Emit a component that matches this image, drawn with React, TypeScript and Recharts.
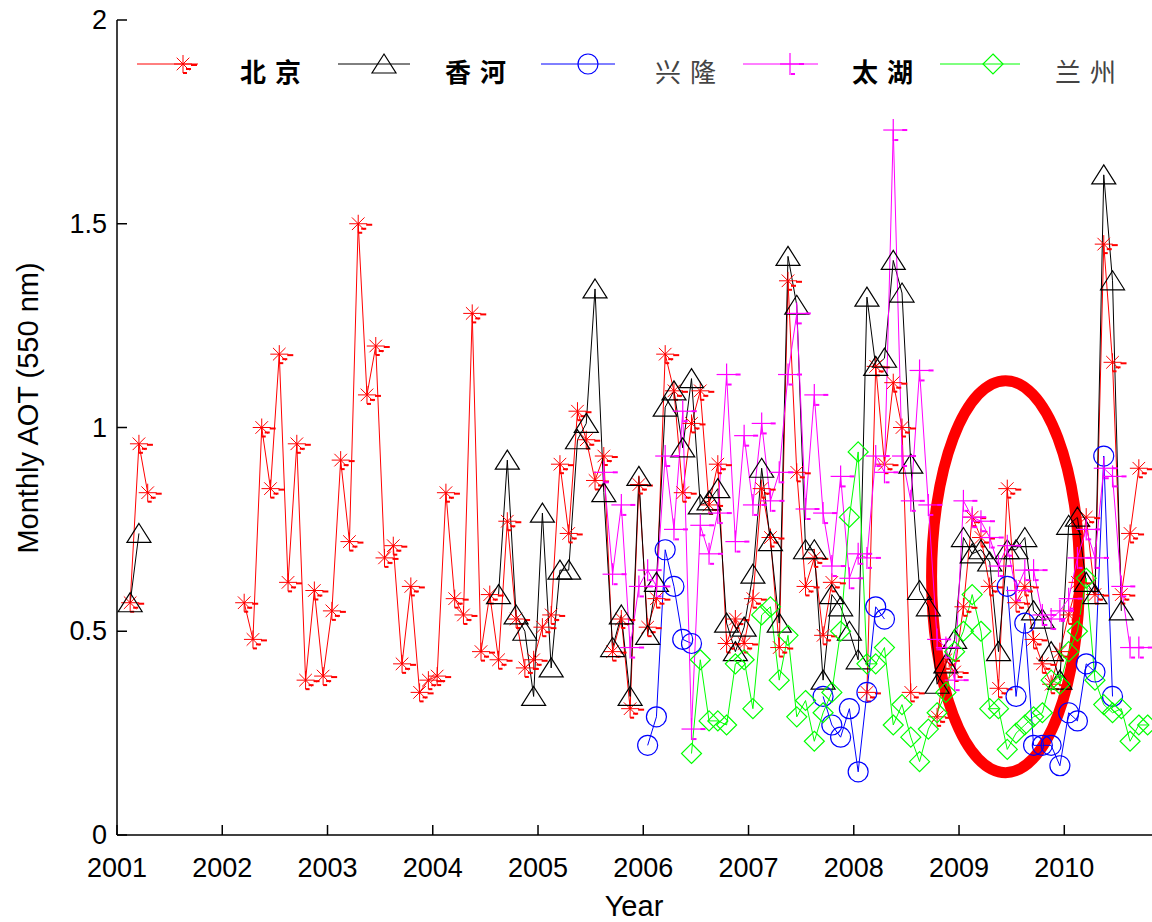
import React from 'react';
import { LineChart, Line, XAxis, YAxis, ReferenceArea } from 'recharts';

// Monthly AOT (550 nm), one row per year (Jan..Dec), 2001 - Oct 2010
const beijing: (number | null)[] = [
  null, 0.57, 0.96, 0.84, null, null, null, null, null, null, null, null,
  null, null, 0.57, 0.48, 1.0, 0.85, 1.18, 0.62, 0.96, 0.38, 0.6, 0.39,
  0.55, 0.92, 0.72, 1.5, 1.08, 1.2, 0.68, 0.71, 0.42, 0.61, 0.35, 0.38,
  0.39, 0.84, 0.58, 0.54, 1.28, 0.45, 0.59, 0.43, 0.77, 0.53, 0.41, 0.43,
  0.51, 0.54, 0.91, 0.74, 1.04, 0.97, 0.87, 0.93, 0.45, 0.53, 0.31, 0.86,
  0.51, 0.58, 1.18, 1.09, 0.84, 1.01, 1.09, 0.81, 0.91, 0.47, 0.53, 0.47,
  0.58, 0.85, 0.73, 0.46, 1.36, 0.89, 0.61, 0.68, 0.49, 0.62, null, null,
  null, 0.35, 1.15, 0.91, 1.11, 1.0, 0.35, null, null, 0.29, 0.43, 0.4,
  0.56, 0.78, 0.73, 0.61, 0.36, 0.85, 0.57, 0.61, 0.48, 0.42, 0.37, 0.45,
  0.54, 0.62, 0.78, 0.59, 1.45, 1.16, 0.59, 0.74, 0.9, null,
];

const xianghe: (number | null)[] = [
  null, 0.57, 0.74, null, null, null, null, null, null, null, null, null,
  null, null, null, null, null, null, null, null, null, null, null, null,
  null, null, null, null, null, null, null, null, null, null, null, null,
  null, null, null, null, null, null, null, 0.59, 0.92, 0.54, 0.5, 0.34,
  0.79, 0.41, 0.65, 0.65, 0.97, 1.01, 1.34, 0.84, 0.46, 0.54, 0.34, 0.88,
  0.49, 0.62, 1.05, 1.09, 0.95, 1.12, 0.81, 0.82, 0.85, 0.52, 0.45, 0.51,
  0.64, 0.9, 0.72, 0.52, 1.42, 1.3, 0.7, 0.7, 0.38, 0.59, 0.56, 0.5,
  0.43, 1.32, 1.15, 1.17, 1.41, 1.33, 0.91, 0.6, 0.56, 0.37, 0.42, 0.48,
  0.73, 0.69, 0.7, 0.67, 0.45, 0.7, 0.7, 0.73, 0.55, 0.53, 0.45, 0.38,
  0.76, 0.78, 0.62, 0.59, 1.62, 1.36, 0.55, null, null, null,
];

const xinglong: (number | null)[] = [
  null, null, null, null, null, null, null, null, null, null, null, null,
  null, null, null, null, null, null, null, null, null, null, null, null,
  null, null, null, null, null, null, null, null, null, null, null, null,
  null, null, null, null, null, null, null, null, null, null, null, null,
  null, null, null, null, null, null, null, null, null, null, null, null,
  0.22, 0.29, 0.7, 0.61, 0.48, 0.47, null, null, null, null, null, null,
  null, null, null, null, null, null, null, null, 0.34, 0.27, 0.24, 0.31,
  0.155, 0.35, 0.56, 0.53, null, null, null, null, null, null, null, null,
  null, null, null, null, null, 0.61, 0.34, 0.52, 0.22, 0.22, 0.22, 0.17,
  0.3, 0.28, 0.42, 0.4, 0.93, 0.34, null, null, null, null,
];

const taihu: (number | null)[] = [
  null, null, null, null, null, null, null, null, null, null, null, null,
  null, null, null, null, null, null, null, null, null, null, null, null,
  null, null, null, null, null, null, null, null, null, null, null, null,
  null, null, null, null, null, null, null, null, null, null, null, null,
  null, null, null, null, null, null, null, 0.89, 0.64, 0.81, 0.46, 0.61,
  0.65, 0.61, 0.93, 0.75, 1.04, 0.26, 0.76, 0.69, 0.79, 1.13, 0.72, 0.98,
  0.81, 1.01, 0.82, 0.89, 1.13, 1.28, 0.8, 1.08, 0.79, 0.66, 0.88, 0.63,
  0.69, 0.68, 0.93, 0.89, 1.73, 0.93, 0.82, 1.14, 0.81, 0.48, 0.46, 0.38,
  0.82, 0.78, 0.77, 0.73, 0.66, 0.71, 0.6, 0.65, 0.65, 0.54, 0.53, 0.55,
  0.58, 0.68, 0.75, 0.68, 0.9, 0.88, 0.61, 0.46, 0.46, null,
];

const lanzhou: (number | null)[] = [
  null, null, null, null, null, null, null, null, null, null, null, null,
  null, null, null, null, null, null, null, null, null, null, null, null,
  null, null, null, null, null, null, null, null, null, null, null, null,
  null, null, null, null, null, null, null, null, null, null, null, null,
  null, null, null, null, null, null, null, null, null, null, null, null,
  null, null, null, null, null, 0.2, 0.43, 0.28, 0.28, 0.27, 0.42, 0.43,
  0.31, 0.54, 0.56, 0.38, 0.49, 0.29, 0.33, 0.23, 0.3, 0.35, 0.5, 0.78,
  0.94, 0.42, 0.42, 0.46, 0.27, 0.32, 0.24, 0.18, 0.26, 0.3, 0.35, 0.45,
  0.5, 0.59, 0.5, 0.31, 0.31, 0.21, 0.25, 0.27, 0.29, 0.3, 0.38, 0.37,
  0.45, 0.5, 0.63, 0.38, 0.32, 0.3, 0.31, 0.23, 0.27, 0.27,
];

const yearTicks = [2001, 2002, 2003, 2004, 2005, 2006, 2007, 2008, 2009, 2010];
const aotTicks = [0, 0.5, 1, 1.5, 2];
const START_YEAR = 2001;
const END_YEAR = 2010 + 10 / 12;

const stationNames = ['北京', '香河', '兴隆', '太湖', '兰州'];

const data = beijing.map((_, m) => ({
  t: START_YEAR + (m + 0.5) / 12,
  bj: beijing[m],
  xh: xianghe[m],
  xl: xinglong[m],
  th: taihu[m],
  lz: lanzhou[m],
}));

const FONT = '"Liberation Sans", Arial, sans-serif';
const CJK = '"Noto Sans CJK SC", sans-serif';
const TICK_FS = 27;
const TITLE_FS = 29;

type MarkProps = { cx: number; cy: number; color: string };

const Star = ({ cx, cy, color }: MarkProps) => {
  const r = 9;
  const d = r * 0.7;
  return (
    <g stroke={color} strokeWidth={1}>
      <line x1={cx - r} y1={cy} x2={cx + r} y2={cy} />
      <line x1={cx} y1={cy - r} x2={cx} y2={cy + r} />
      <line x1={cx - d} y1={cy - d} x2={cx + d} y2={cy + d} />
      <line x1={cx - d} y1={cy + d} x2={cx + d} y2={cy - d} />
      <rect x={cx + 8} y={cy} width={6} height={2} fill={color} stroke="none" />
      <rect x={cx + 3} y={cy + 4} width={5} height={2} fill={color} stroke="none" />
      <rect x={cx} y={cy + 8} width={4} height={2} fill={color} stroke="none" />
    </g>
  );
};

const Triangle = ({ cx, cy, color }: MarkProps) => (
  <polygon
    points={`${cx},${cy - 10} ${cx + 12},${cy + 9} ${cx - 12},${cy + 9}`}
    fill="none"
    stroke={color}
    strokeWidth={1.2}
  />
);

const Circle = ({ cx, cy, color }: MarkProps) => (
  <circle cx={cx} cy={cy} r={10} fill="none" stroke={color} strokeWidth={1.2} />
);

const Plus = ({ cx, cy, color }: MarkProps) => (
  <g stroke={color} strokeWidth={1.2}>
    <line x1={cx - 10} y1={cy} x2={cx + 10} y2={cy} />
    <line x1={cx} y1={cy - 11} x2={cx} y2={cy + 11} />
    <rect x={cx + 9} y={cy - 1} width={5} height={2} fill={color} stroke="none" />
    <rect x={cx + 1} y={cy + 9} width={4} height={2} fill={color} stroke="none" />
  </g>
);

const Diamond = ({ cx, cy, color }: MarkProps) => (
  <polygon
    points={`${cx},${cy - 10} ${cx + 10},${cy} ${cx},${cy + 10} ${cx - 10},${cy}`}
    fill="none"
    stroke={color}
    strokeWidth={1.2}
  />
);

const series = [
  { key: 'bj', color: '#ff0000', Mark: Star },
  { key: 'xh', color: '#000000', Mark: Triangle },
  { key: 'xl', color: '#0000ff', Mark: Circle },
  { key: 'th', color: '#ff00ff', Mark: Plus },
  { key: 'lz', color: '#00ff00', Mark: Diamond },
];

const makeDot = (Mark: React.FC<MarkProps>, color: string) => (p: any) => {
  if (p.value == null || p.cy == null || Number.isNaN(p.cy)) return <g key={p.index} />;
  return (
    <g key={p.index}>
      <Mark cx={p.cx} cy={p.cy} color={color} />
    </g>
  );
};

const XTick = (p: any) => (
  <g>
    <line x1={p.x} x2={p.x} y1={p.y} y2={p.y - 10} stroke="#000" strokeWidth={1.5} />
    <text x={p.x} y={p.y + 33} textAnchor="middle" dominantBaseline="central" fontSize={TICK_FS} fontFamily={FONT} fill="#000">
      {p.payload.value}
    </text>
  </g>
);

const YTickLeft = (p: any) => (
  <g>
    <line x1={p.x} x2={p.x + 10} y1={p.y} y2={p.y} stroke="#000" strokeWidth={1.5} />
    <text x={p.x - 10} y={p.y} textAnchor="end" dominantBaseline="central" fontSize={TICK_FS} fontFamily={FONT} fill="#000">
      {p.payload.value}
    </text>
  </g>
);

const YTickRight = (p: any) => (
  <line x1={p.x - 10} x2={p.x} y1={p.y} y2={p.y} stroke="#000" strokeWidth={1.5} />
);

const XTitle = () => (
  <text x={634} y={906} textAnchor="middle" dominantBaseline="central" fontSize={TITLE_FS} fontFamily={FONT} fill="#000">
    Year
  </text>
);

const YTitle = () => (
  <text
    x={28}
    y={408}
    transform="rotate(-90 28 408)"
    textAnchor="middle"
    dominantBaseline="central"
    fontSize={TITLE_FS}
    fontFamily={FONT}
    fill="#000"
  >
    Monthly AOT (550 nm)
  </text>
);

const ellipseShape = (p: any) => (
  <ellipse
    cx={p.x + p.width / 2}
    cy={p.y + p.height / 2}
    rx={p.width / 2}
    ry={p.height / 2}
    fill="none"
    stroke="#ff0000"
    strokeWidth={11}
  />
);

// legend entries: line sample, marker and station name
const legendItems = [
  { x0: 137, x1: 198, mx: 183, tx: 240, bold: true },
  { x0: 338, x1: 410, mx: 384, tx: 445, bold: true },
  { x0: 541, x1: 615, mx: 588, tx: 655, bold: false },
  { x0: 743, x1: 818, mx: 790, tx: 852, bold: true },
  { x0: 940, x1: 1020, mx: 993, tx: 1055, bold: false },
];

const LegendOverlay = () => (
  <svg width={1152} height={110} style={{ position: 'absolute', left: 0, top: 0 }}>
    {legendItems.map((it, i) => {
      const s = series[i];
      const M = s.Mark;
      return (
        <g key={s.key}>
          <line x1={it.x0} x2={it.x1} y1={64} y2={64} stroke={s.color} strokeWidth={1} />
          <M cx={it.mx} cy={64} color={s.color} />
          <text
            x={it.tx}
            y={70}
            dominantBaseline="central"
            fontSize={26}
            fontFamily={CJK}
            fontWeight={it.bold ? 700 : 400}
            fill={it.bold ? '#000' : '#444'}
            letterSpacing={9}
          >
            {stationNames[i]}
          </text>
        </g>
      );
    })}
  </svg>
);

export default function App() {
  return (
    <div style={{ position: 'relative', width: 1152, height: 922 }}>
      <style>{`body{margin:0}`}</style>
      <LineChart width={1152} height={922} data={data} margin={{ top: 20, right: 0, bottom: 0, left: 0 }}>
        <XAxis
          type="number"
          dataKey="t"
          domain={[START_YEAR, END_YEAR]}
          ticks={yearTicks}
          allowDataOverflow
          height={87}
          tickSize={0}
          tickMargin={0}
          tick={XTick}
          axisLine={{ stroke: '#000', strokeWidth: 1.5 }}
          tickLine={false}
          interval={0}
          label={XTitle}
        />
        <YAxis
          yAxisId="l"
          domain={[0, 2]}
          ticks={aotTicks}
          width={117}
          tickSize={0}
          tickMargin={0}
          tick={YTickLeft}
          axisLine={{ stroke: '#000', strokeWidth: 1.5 }}
          tickLine={false}
          interval={0}
          label={YTitle}
        />
        <YAxis
          yAxisId="r"
          orientation="right"
          domain={[0, 2]}
          ticks={aotTicks}
          width={0}
          tickSize={0}
          tickMargin={0}
          tick={YTickRight}
          axisLine={false}
          tickLine={false}
          interval={0}
        />
        {series.map((s) => (
          <Line
            key={s.key}
            yAxisId="l"
            type="linear"
            dataKey={s.key}
            stroke={s.color}
            strokeWidth={1}
            dot={makeDot(s.Mark, s.color)}
            activeDot={false}
            isAnimationActive={false}
            connectNulls={false}
          />
        ))}
        <ReferenceArea
          yAxisId="l"
          x1={2008.739}
          x2={2010.145}
          y1={0.153}
          y2={1.115}
          shape={ellipseShape}
          ifOverflow="visible"
        />
      </LineChart>
      <LegendOverlay />
    </div>
  );
}
